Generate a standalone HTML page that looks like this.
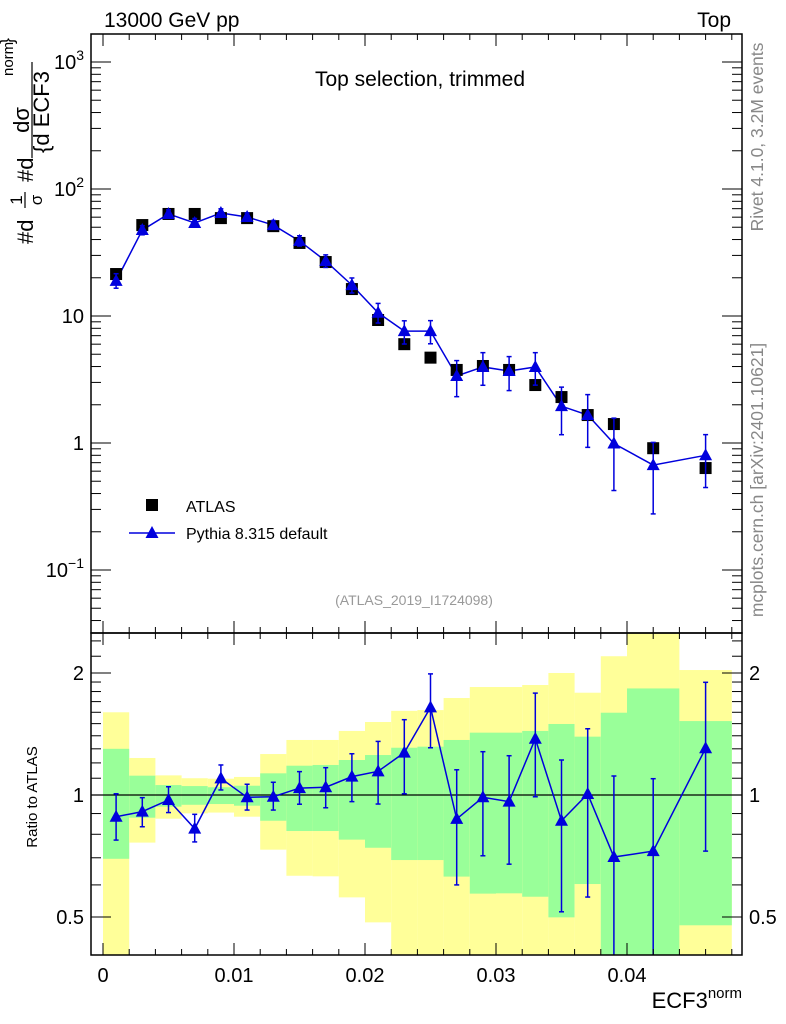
<!DOCTYPE html>
<html><head><meta charset="utf-8">
<style>
html,body{margin:0;padding:0;background:#fff;}
svg{display:block;font-family:"Liberation Sans",sans-serif;}
</style></head>
<body>
<svg id="chart" width="786" height="1024" xmlns="http://www.w3.org/2000/svg">
<g id="ratio-bands"></g>
<g id="main-marks"></g>
<g id="ratio-marks"></g>
<g id="axes"></g>
<text x="104" y="27" font-size="21">13000 GeV pp</text>
<text x="731" y="27" font-size="21" text-anchor="end">Top</text>
<text x="420" y="86" font-size="21" text-anchor="middle">Top selection, trimmed</text>
<text x="414" y="605" font-size="14" fill="#999" text-anchor="middle">(ATLAS_2019_I1724098)</text>
<g>
 <rect x="146" y="499" width="12" height="12" fill="#000"/>
 <text x="186" y="512" font-size="16">ATLAS</text>
 <line x1="129" y1="533" x2="175" y2="533" stroke="#0000dd" stroke-width="1.5"/>
 <polygon points="152,526 158.5,538 145.5,538" fill="#0000dd"/>
 <text x="186" y="539" font-size="16">Pythia 8.315 default</text>
</g>
<text transform="translate(763,137) rotate(-90)" font-size="17.5" fill="#888" text-anchor="middle">Rivet 4.1.0,  3.2M events</text>
<text transform="translate(763,480) rotate(-90)" font-size="17.5" fill="#888" text-anchor="middle">mcplots.cern.ch [arXiv:2401.10621]</text>
<g font-size="22">
 <text transform="translate(33,244) rotate(-90)">#d</text>
 <text transform="translate(22,200) rotate(-90)" font-size="17" text-anchor="middle">1</text>
 <line x1="25" y1="192" x2="25" y2="208" stroke="#000" stroke-width="1.2"/>
 <text transform="translate(42,200) rotate(-90)" font-size="17" text-anchor="middle">σ</text>
 <text transform="translate(33,182) rotate(-90)">#d</text>
 <text transform="translate(29,120) rotate(-90)" text-anchor="middle">dσ</text>
 <line x1="32" y1="62" x2="32" y2="158" stroke="#000" stroke-width="1.2"/>
 <text transform="translate(49,112) rotate(-90)" text-anchor="middle">{d ECF3</text>
 <text transform="translate(13,76) rotate(-90)" font-size="15">norm</text>
 <text transform="translate(13,44) rotate(-90)" font-size="18">}</text>
</g>
<text transform="translate(37,797) rotate(-90)" font-size="15" text-anchor="middle">Ratio to ATLAS</text>
<text x="742" y="1008" font-size="22" text-anchor="end">ECF3<tspan font-size="15" dy="-10">norm</tspan></text>
</svg>
<script>
const binEdges=[0,0.002,0.004,0.006,0.008,0.010,0.012,0.014,0.016,0.018,0.020,0.022,0.024,0.026,0.028,0.030,0.032,0.034,0.036,0.038,0.040,0.044,0.048];
const atlasValues=[21.4,52,63.6,63.6,59,59,51,37.6,26.6,16.3,9.3,6.0,4.7,3.76,4.04,3.76,2.86,2.3,1.66,1.41,0.91,0.635];
const pythiaValues=[18.9,47.5,63.6,54,64.7,60.2,52,39,27.1,17.5,10.6,7.6,7.6,3.37,3.97,3.69,3.97,1.95,1.66,0.99,0.67,0.80];
const ratioValues=[0.884,0.91,0.972,0.826,1.099,0.987,0.99,1.04,1.045,1.11,1.144,1.272,1.645,0.873,0.987,0.963,1.377,0.864,1.006,0.703,0.727,1.304];
const ratioErrHi=[1.007,0.985,1.048,0.896,1.186,1.063,1.075,1.142,1.168,1.264,1.356,1.534,1.99,1.154,1.279,1.25,1.784,1.22,1.457,1.114,1.097,1.897];
const ratioErrLo=[0.774,0.835,0.905,0.766,1.029,0.918,0.918,0.949,0.93,0.963,0.95,1.007,1.308,0.6,0.708,0.675,0.99,0.515,0.56,0.3,0.3,0.727];
const greenHi=[1.30,1.116,1.058,1.052,1.045,1.054,1.131,1.181,1.186,1.22,1.255,1.308,1.316,1.367,1.425,1.425,1.439,1.497,1.393,1.596,1.832,1.522];
const greenLo=[0.696,0.879,0.936,0.946,0.95,0.941,0.864,0.815,0.815,0.776,0.741,0.691,0.691,0.629,0.571,0.572,0.561,0.499,0.603,0.3,0.3,0.477];
const yellowHi=[1.60,1.234,1.118,1.10,1.097,1.108,1.262,1.367,1.367,1.439,1.514,1.613,1.62,1.735,1.847,1.847,1.868,2.0,1.788,2.2,3.0,2.034];
const yellowLo=[0.3,0.763,0.874,0.901,0.905,0.884,0.733,0.632,0.630,0.559,0.485,0.3,0.3,0.3,0.3,0.3,0.3,0.3,0.3,0.3,0.3,0.3];
const xTickLabels=["0","0.01","0.02","0.03","0.04"];
const mainTickLabels=["10^-1","1","10","10^2","10^3"];
const ratioTickLabels=["0.5","1","2"];

const NS="http://www.w3.org/2000/svg";
const L=91,R=742,MT=34,MB=633,RB=955;
const xs=v=>103+v*13100;
const ym=v=>443-127*Math.log10(v);
const yr=v=>795-122*Math.log2(v);
function mk(parent,tag,attrs){const e=document.createElementNS(NS,tag);for(const k in attrs)e.setAttribute(k,attrs[k]);document.getElementById(parent).appendChild(e);return e;}
const centers=binEdges.slice(0,-1).map((e,i)=>(e+binEdges[i+1])/2);

for(let i=0;i<centers.length;i++){
 const x0=xs(binEdges[i]),x1=xs(binEdges[i+1]);
 let yt=Math.max(MB,yr(yellowHi[i])),yb=Math.min(RB,yr(yellowLo[i]));
 let e=mk('ratio-bands','rect',{x:x0,y:yt,width:x1-x0,height:yb-yt,fill:'#ffff99'});
 
 
 yt=Math.max(MB,yr(greenHi[i]));yb=Math.min(RB,yr(greenLo[i]));
 e=mk('ratio-bands','rect',{x:x0,y:yt,width:x1-x0,height:yb-yt,fill:'#99ff99'});
 
 
}
let u=mk('ratio-bands','line',{x1:L,x2:R,y1:yr(1),y2:yr(1),stroke:'#000','stroke-width':1.2});



function tri(g,x,y,name){const e=mk(g,'polygon',{points:`${x},${y-7} ${x+6.5},${y+5} ${x-6.5},${y+5}`,fill:'#0000dd'});
 
 }
function errbar(g,x,y1,y2,capT,capB){
 const e=mk(g,'line',{x1:x,x2:x,y1:y1,y2:y2,stroke:'#0000dd','stroke-width':1.5});
 
 
 if(capT)mk(g,'line',{x1:x-2.5,x2:x+2.5,y1:y1,y2:y1,stroke:'#0000dd','stroke-width':1.5});
 if(capB)mk(g,'line',{x1:x-2.5,x2:x+2.5,y1:y2,y2:y2,stroke:'#0000dd','stroke-width':1.5});
}
let pts=centers.map((c,i)=>xs(c)+','+ym(pythiaValues[i])).join(' ');
let pl=mk('main-marks','polyline',{points:pts,fill:'none',stroke:'#0000dd','stroke-width':1.5});


centers.forEach((c,i)=>{
 const x=xs(c);
 const r=mk('main-marks','rect',{x:x-6,y:ym(atlasValues[i])-6,width:12,height:12,fill:'#000'});
 
 
});
centers.forEach((c,i)=>{
 const x=xs(c),p=pythiaValues[i];
 const hi=p*ratioErrHi[i]/ratioValues[i],lo=p*ratioErrLo[i]/ratioValues[i];
 errbar('main-marks',x,ym(hi),ym(lo),true,true);
 tri('main-marks',x,ym(p),'pythia-point');
});
pts=centers.map((c,i)=>xs(c)+','+yr(ratioValues[i])).join(' ');
pl=mk('ratio-marks','polyline',{points:pts,fill:'none',stroke:'#0000dd','stroke-width':1.5});


centers.forEach((c,i)=>{
 const x=xs(c);
 const y1=yr(ratioErrHi[i]),y2=yr(ratioErrLo[i]);
 errbar('ratio-marks',x,Math.max(MB,y1),Math.min(RB,y2),y1>MB,y2<RB);
 tri('ratio-marks',x,yr(ratioValues[i]),'pythia-ratio-point');
});
for(const [t,b,n] of [[MT,MB,'main-frame'],[MB,RB,'ratio-frame']]){
 const f=mk('axes','rect',{x:L,y:t,width:R-L,height:b-t,fill:'none',stroke:'#000','stroke-width':1.5});
 
 
}
function ln(x1,y1,x2,y2){mk('axes','line',{x1:x1,y1:y1,x2:x2,y2:y2,stroke:'#000','stroke-width':1});}
for(let k=0;k<=24;k++){const v=k*0.002,x=xs(v);if(x>R)break;const len=(k%5==0)?12:6;
 for(const [t,b] of [[MT,MB],[MB,RB]]){ln(x,b,x,b-len);ln(x,t,x,t+len);}}
xTickLabels.forEach((s,i)=>{const t=mk('axes','text',{x:xs(i*0.01),y:982,'font-size':20,'text-anchor':'middle'});t.textContent=s;
 
 });
for(let d=-2;d<=3;d++){for(let m=1;m<10;m++){const v=m*Math.pow(10,d),y=ym(v);if(y<MT||y>MB)continue;const len=m==1?20:10;ln(L,y,L+len,y);ln(R,y,R-len,y);}}
mainTickLabels.forEach((s,i)=>{const v=Math.pow(10,i-1);const parts=s.split('^');
 const t=mk('axes','text',{x:84,y:ym(v)+7,'font-size':20,'text-anchor':'end'});
 if(parts.length>1){t.textContent=parts[0];const ts=document.createElementNS(NS,'tspan');ts.setAttribute('dy','-9');ts.setAttribute('font-size','14');ts.textContent=parts[1].replace('-','−');t.appendChild(ts);}
 else t.textContent=s;
 
 });
for(const v of [0.5,0.6,0.7,0.8,0.9,1,1.1,1.2,1.3,1.4,1.5,1.6,1.7,1.8,1.9,2,2.2,2.4]){const y=yr(v);if(y<MB||y>RB)continue;const len=(v==0.5||v==1||v==2)?20:10;ln(L,y,L+len,y);ln(R,y,R-len,y);}
ratioTickLabels.forEach(s=>{const v=parseFloat(s);
 let t=mk('axes','text',{x:84,y:yr(v)+7,'font-size':20,'text-anchor':'end'});t.textContent=s;
 
 
 t=mk('axes','text',{x:749,y:yr(v)+7,'font-size':20,'text-anchor':'start'});t.textContent=s;
 
 });
</script>
</body></html>
